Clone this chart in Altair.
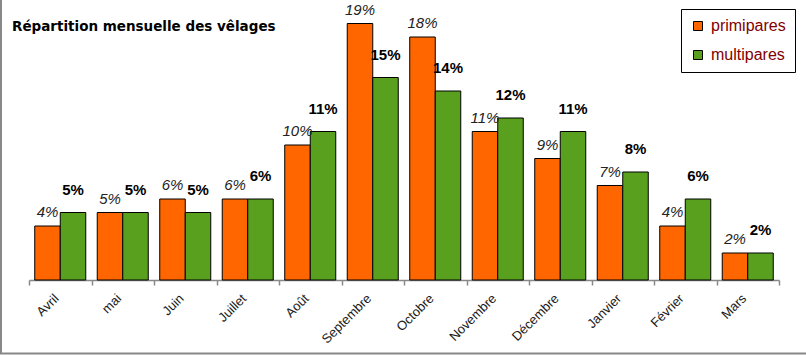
import altair as alt
import pandas as pd

mois = ["Avril", "mai", "Juin", "Juillet", "Août", "Septembre", "Octobre",
        "Novembre", "Décembre", "Janvier", "Février", "Mars"]
primipares = [4, 5, 6, 6, 10, 19, 18, 11, 9, 7, 4, 2]
multipares = [5, 5, 5, 6, 11, 15, 14, 12, 11, 8, 6, 2]
series = ["primipares", "multipares"]
colors = ["#FF6600", "#58A01E"]
titre = "Répartition mensuelle des vêlages"

rows = []
for i, m in enumerate(mois):
    rows.append({"mois": m, "serie": "primipares", "v": primipares[i]})
    rows.append({"mois": m, "serie": "multipares", "v": multipares[i]})
df = pd.DataFrame(rows)

FONT = "Liberation Sans"

x_enc = alt.X("mois:N", sort=mois, title=None,
              scale=alt.Scale(paddingInner=0, paddingOuter=0),
              axis=alt.Axis(labelAngle=-45, labelAlign="right", labelBaseline="middle",
                            labelFontSize=13, labelFont=FONT, labelOffset=-4,
                            labelColor="#1a1a1a", domainColor="#888888",
                            tickColor="#888888", tickSize=5, tickBand="extent",
                            labelPadding=11, domainWidth=1.5, tickWidth=1.5))
xo_enc = alt.XOffset("serie:N", scale=alt.Scale(domain=series, paddingOuter=0.225,
                                                paddingInner=0))
y_enc = alt.Y("v:Q", scale=alt.Scale(domain=[0, 20], nice=False), axis=None)

base = alt.Chart(df)

bars = base.mark_bar(stroke="black", strokeWidth=1).encode(
    x=x_enc, xOffset=xo_enc, y=y_enc,
    color=alt.Color("serie:N", scale=alt.Scale(domain=series, range=colors),
                    legend=alt.Legend(title=None, orient="none", legendX=652,
                                      legendY=-1, symbolType="square",
                                      symbolSize=81, symbolStrokeColor="black",
                                      symbolStrokeWidth=1, labelColor="#800000",
                                      labelFontSize=16, labelFont=FONT,
                                      strokeColor="black", fillColor="white",
                                      padding=9, rowPadding=13, symbolOffset=0,
                                      labelOffset=5)),
)

lab_p = base.transform_filter(alt.datum.serie == "primipares").transform_calculate(
    lab="datum.v + '%'").mark_text(
    font=FONT, fontSize=15, fontStyle="italic", color="#222222",
    baseline="alphabetic", dy=-9).encode(
    x=x_enc, xOffset=xo_enc, y=y_enc, text="lab:N")

lab_m = base.transform_filter(alt.datum.serie == "multipares").transform_calculate(
    lab="datum.v + '%'").mark_text(
    font=FONT, fontSize=15, fontWeight="bold", color="black",
    baseline="alphabetic", dy=-18).encode(
    x=x_enc, xOffset=xo_enc, y=y_enc, text="lab:N")

title_layer = alt.Chart(pd.DataFrame({"t": [titre]})).mark_text(
    font="DejaVu Sans", fontSize=13.5, fontWeight="bold", color="black",
    align="left", baseline="alphabetic").encode(
    x=alt.value(-17), y=alt.value(21), text="t:N")

border = alt.Chart(pd.DataFrame({"a": [0]})).mark_rule(
    color="#888888", strokeWidth=2).encode(
    x=alt.value(-28), y=alt.value(-10), y2=alt.value(344))
border2 = alt.Chart(pd.DataFrame({"a": [0]})).mark_rule(
    color="#888888", strokeWidth=2).encode(
    x=alt.value(-29), x2=alt.value(777), y=alt.value(343.5))

chart = alt.layer(bars, lab_p, lab_m, title_layer, border, border2).properties(
    width=750, height=270,
    autosize=alt.AutoSizeParams(type="none"),
    padding={"left": 29, "top": 10, "right": 27, "bottom": 75},
    background="white",
).configure_view(stroke=None)

chart.save("out.html", embed_options={"renderer": "svg", "actions": False})
